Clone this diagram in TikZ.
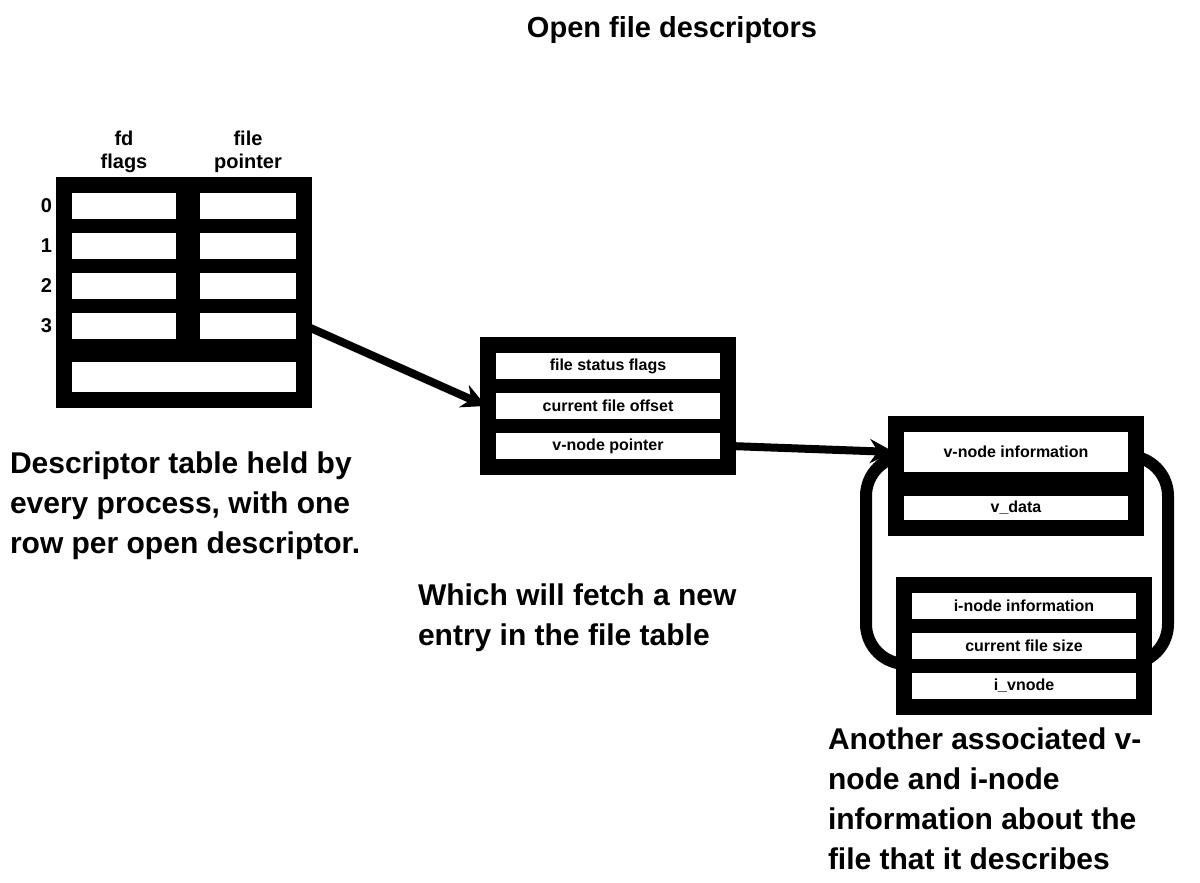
\documentclass[tikz,border=0pt]{standalone}
\usepackage{fontspec}
\setmainfont{Liberation Sans}
\usetikzlibrary{positioning, fit, matrix, arrows.meta, backgrounds}

\begin{document}
\begin{tikzpicture}
    [x = 1pt, y = 1pt, outer sep = 0pt,
    fdcell/.style={rectangle, draw=black, fill=white, line width=12pt,
      inner sep=0pt, minimum width=236pt, minimum height=38pt,
      font=\fontsize{16}{19}\selectfont\bfseries, align=center},
    outline/.style={rectangle, draw=black, line width=12pt, inner sep=4pt},
    hdr/.style={font=\fontsize{20}{23}\selectfont\bfseries, align=center,
      inner sep=0pt},
    note/.style={font=\fontsize{30}{40}\selectfont\bfseries, align=left,
      inner sep=0pt, anchor=north west},
    link/.style={line width=8pt, -{Stealth[length=24pt, width=24pt]}}]

    \useasboundingbox (0,0) rectangle (1200,-883);

    \node [font=\fontsize{29}{34}\selectfont\bfseries] (title) at (672,-30)
    {Open file descriptors};

    % per-process descriptor table
    \matrix (fdtab) [matrix of nodes, nodes in empty cells, anchor=north west,
    inner sep=0pt, column sep=0pt, row sep=-10pt,
    nodes = {fdcell, minimum width=116pt},
    column 2/.style={nodes={minimum width=108pt}}] at (60,-181) {
      \pgfmatrixnextcell \\
      \pgfmatrixnextcell \\
      \pgfmatrixnextcell \\
      \pgfmatrixnextcell \\
    };
    \node [fdcell, minimum height=42pt, below right=11pt and 0pt of
    fdtab-4-1.south west] (fdrest) {};
    \node [outline, fit=(fdtab-1-1) (fdtab-4-2) (fdrest)] (fdframe) {};

    \node [hdr, above=14pt of fdtab-1-1.north] (hdrflags) {fd\\flags};
    \node [hdr, above=14pt of fdtab-1-2.north] (hdrptr) {file\\pointer};
    \foreach \r/\fd in {1/0, 2/1, 3/2, 4/3}
      \node [hdr, anchor=east] (fdno-\r) at ([xshift=-10pt]fdframe.west |- fdtab-\r-1) {\fd};

    % file table entry
    \node [fdcell] (fte-1) at (608,-366) {file status flags};
    \node [fdcell, below=2pt of fte-1] (fte-2) {current file offset};
    \node [fdcell, below=2pt of fte-2] (fte-3) {v-node pointer};
    \node [outline, fit=(fte-1) (fte-3)] (fteframe) {};

    % v-node and i-node
    \node [fdcell, minimum height=52pt] (vn-1) at (1016,-452) {v-node information};
    \node [fdcell, minimum height=36pt, below=12pt of vn-1] (vn-2) {v\_data};
    \node [outline, fit=(vn-1) (vn-2)] (vnframe) {};
    \node [fdcell] (in-1) at (1024,-606) {i-node information};
    \node [fdcell, below=2pt of in-1] (in-2) {current file size};
    \node [fdcell, below=2pt of in-2] (in-3) {i\_vnode};
    \node [outline, fit=(in-1) (in-3)] (inframe) {};
    \begin{scope}[on background layer]
      \draw [line width=12pt, rounded corners=40pt] (866,-456) rectangle (1168,-664);
    \end{scope}

    \draw [link] (fdframe.east |- fdtab-4-2) -- (fteframe.west |- fte-2);
    \draw [link] (fteframe.east |- fte-3) -- (vnframe.west |- vn-1);

    \node [note] (fdnote) at (10,-452)
    {Descriptor table held by\\every process, with one\\row per open descriptor.};
    \node [note] (ftenote) at (418,-584)
    {Which will fetch a new\\entry in the file table};
    \node [note] (vnnote) at (828,-728)
    {Another associated v-\\node and i-node\\information about the\\file that it describes};
  \end{tikzpicture}
\end{document}
